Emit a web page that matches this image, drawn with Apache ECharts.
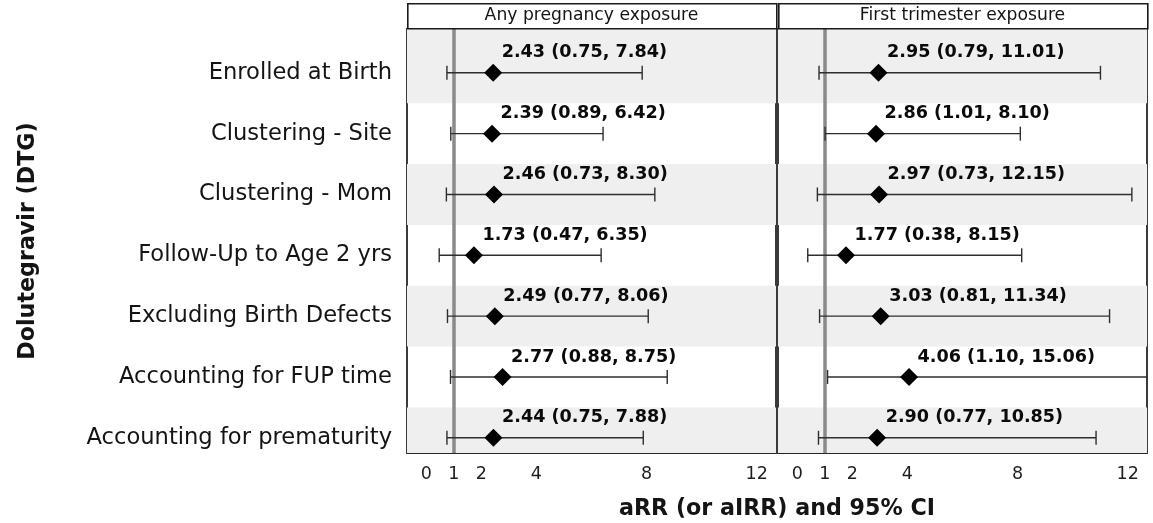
<!DOCTYPE html>
<html>
<head>
<meta charset="utf-8">
<script src="https://cdn.jsdelivr.net/npm/echarts@6/dist/echarts.min.js"></script>
<style>
  html, body { margin: 0; padding: 0; background: #ffffff; }
  #chart { width: 1153px; height: 523px; }
</style>
</head>
<body>
<div id="chart"></div>
<script>
// Sensitivity analyses for dolutegravir exposure: adjusted rate ratios with 95% CIs
const analyses = [
  'Enrolled at Birth',
  'Clustering - Site',
  'Clustering - Mom',
  'Follow-Up to Age 2 yrs',
  'Excluding Birth Defects',
  'Accounting for FUP time',
  'Accounting for prematurity'
];
const panelTitles = ['Any pregnancy exposure', 'First trimester exposure'];

const anyEst  = [2.43, 2.39, 2.46, 1.73, 2.49, 2.77, 2.44];
const anyLow  = [0.75, 0.89, 0.73, 0.47, 0.77, 0.88, 0.75];
const anyHigh = [7.84, 6.42, 8.30, 6.35, 8.06, 8.75, 7.88];

const firstEst  = [2.95, 2.86, 2.97, 1.77, 3.03, 4.06, 2.90];
const firstLow  = [0.79, 1.01, 0.73, 0.38, 0.81, 1.10, 0.77];
const firstHigh = [11.01, 8.10, 12.15, 8.15, 11.34, 15.06, 10.85];

const xTicks = [0, 1, 2, 4, 8, 12];
const nullValue = 1;

const xAxisTitle = 'aRR (or aIRR) and 95% CI';
const yAxisTitle = 'Dolutegravir (DTG)';

const panels = [
  { est: anyEst, low: anyLow, high: anyHigh },
  { est: firstEst, low: firstLow, high: firstHigh }
];

const X_MIN = -0.7, X_MAX = 12.7;
const Y_MIN = -0.72, Y_MAX = 6.25;
const GRID_TOP = 29, GRID_H = 424, GRID_W = 369;
const gridLefts = [407, 778];

const textColor = '#141414';
const fmt = v => v.toFixed(2);

const grids = gridLefts.map(left => ({
  left: left, top: GRID_TOP, width: GRID_W, height: GRID_H,
  show: true, borderColor: '#262626', borderWidth: 1.8,
  backgroundColor: 'transparent', containLabel: false
}));

const xAxes = gridLefts.map((_, k) => ({
  type: 'value', gridIndex: k, min: X_MIN, max: X_MAX,
  axisLine: { show: false }, axisTick: { show: false },
  splitLine: { show: false },
  axisLabel: {
    customValues: xTicks, margin: 12,
    fontFamily: 'DejaVu Sans', fontSize: 17.5, color: '#1e1e1e'
  }
}));

const yAxes = gridLefts.map((_, k) => ({
  type: 'value', gridIndex: k, min: Y_MIN, max: Y_MAX, inverse: true,
  axisLine: { show: false }, axisTick: { show: false },
  splitLine: { show: false },
  axisLabel: {
    show: k === 0,
    customValues: analyses.map((_, i) => i),
    formatter: v => analyses[Math.round(v)] || '',
    margin: 15, fontFamily: 'DejaVu Sans', fontSize: 22.6, color: textColor
  },
  name: k === 0 ? yAxisTitle : '',
  nameLocation: 'middle', nameRotate: 90, nameGap: 368,
  nameTextStyle: { fontFamily: 'DejaVu Sans', fontWeight: 'bold', fontSize: 22.2, color: textColor }
}));

const series = [];
panels.forEach((p, k) => {
  // alternating shaded rows
  series.push({
    type: 'custom', xAxisIndex: k, yAxisIndex: k, silent: true, z: 1,
    data: analyses.map((_, i) => [i]).filter(d => d[0] % 2 === 0),
    renderItem: (params, api) => {
      const cs = params.coordSys;
      const i = api.value(0);
      let yTop = api.coord([0, i - 0.5])[1];
      let yBot = api.coord([0, i + 0.5])[1];
      if (i === 0) yTop = cs.y;
      yTop = Math.max(yTop, cs.y);
      yBot = Math.min(yBot, cs.y + cs.height);
      return {
        type: 'rect',
        shape: { x: cs.x, y: yTop, width: cs.width, height: yBot - yTop },
        style: { fill: '#efefef' }
      };
    }
  });
  // confidence intervals with end caps
  series.push({
    type: 'custom', xAxisIndex: k, yAxisIndex: k, silent: true, z: 4, clip: true,
    data: analyses.map((_, i) => [p.low[i], p.high[i], i]),
    renderItem: (params, api) => {
      const i = api.value(2);
      const a = api.coord([api.value(0), i]);
      const b = api.coord([api.value(1), i]);
      const cap = 7;
      const st = { stroke: '#2e2e2e', lineWidth: 1.4 };
      return {
        type: 'group',
        children: [
          { type: 'line', shape: { x1: a[0], y1: a[1], x2: b[0], y2: b[1] }, style: st },
          { type: 'line', shape: { x1: a[0], y1: a[1] - cap, x2: a[0], y2: a[1] + cap }, style: st },
          { type: 'line', shape: { x1: b[0], y1: b[1] - cap, x2: b[0], y2: b[1] + cap }, style: st }
        ]
      };
    }
  });
  // point estimates with value labels
  series.push({
    type: 'scatter', xAxisIndex: k, yAxisIndex: k, z: 5, silent: true,
    symbol: 'diamond', symbolSize: [18, 18],
    itemStyle: { color: '#000000', opacity: 1 },
    data: analyses.map((_, i) => [p.est[i], i]),
    label: {
      show: true, position: 'inside', align: 'left', verticalAlign: 'middle',
      offset: [8.5, -20],
      fontFamily: 'DejaVu Sans', fontWeight: 'bold', fontSize: 17.6, color: '#0a0a0a',
      formatter: prm => {
        const i = prm.dataIndex;
        return fmt(p.est[i]) + ' (' + fmt(p.low[i]) + ', ' + fmt(p.high[i]) + ')';
      }
    },
    markLine: {
      silent: true, symbol: 'none', z: 3,
      label: { show: false },
      lineStyle: { color: '#8a8a8a', width: 3.5, type: 'solid', opacity: 1 },
      data: [{ xAxis: nullValue }]
    }
  });
});

// facet strips and the shared x-axis title
const graphics = [];
gridLefts.forEach((left, k) => {
  graphics.push({
    type: 'rect', left: left, top: 3, z: 10,
    shape: { x: 0, y: 0, width: GRID_W, height: 25 },
    style: { fill: '#ffffff', stroke: '#1a1a1a', lineWidth: 1.6 }
  });
  graphics.push({
    type: 'text', x: left + GRID_W / 2, y: 16, z: 11,
    style: {
      text: panelTitles[k], align: 'center', verticalAlign: 'middle',
      fontFamily: 'DejaVu Sans', fontSize: 17.2, fill: textColor
    }
  });
});
graphics.push({
  type: 'text', x: (gridLefts[0] + gridLefts[1] + GRID_W) / 2, y: 509, z: 11,
  style: {
    text: xAxisTitle, align: 'center', verticalAlign: 'middle',
    fontFamily: 'DejaVu Sans', fontWeight: 'bold', fontSize: 22.2, fill: textColor
  }
});

const chart = echarts.init(document.getElementById('chart'), null, { renderer: 'canvas' });
chart.setOption({
  animation: false,
  backgroundColor: '#ffffff',
  grid: grids,
  xAxis: xAxes,
  yAxis: yAxes,
  series: series,
  graphic: graphics
});
</script>
</body>
</html>
